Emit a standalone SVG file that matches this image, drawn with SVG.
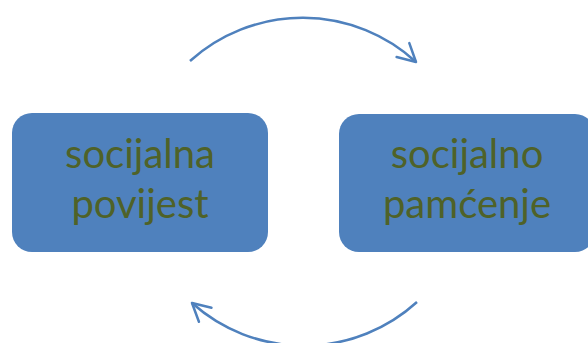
<svg xmlns="http://www.w3.org/2000/svg" width="588" height="343" viewBox="0 0 588 343">
<style>
.box{fill:#4f81bd;}
.lbl{font-family:Lato,"Open Sans","Liberation Sans",sans-serif;font-size:40px;fill:#4f6228;text-anchor:middle;}
.arc{fill:none;stroke:#4f81bd;stroke-width:2.5;}
</style>
<defs>
<marker id="chev" markerUnits="userSpaceOnUse" viewBox="-20 -12 24 24" markerWidth="24" markerHeight="24" refX="0" refY="0" orient="auto" overflow="visible">
<path d="M-17.7,-9.4 L0,0 L-17.7,9.4" fill="none" stroke="#4f81bd" stroke-width="2.5" stroke-linecap="round" stroke-linejoin="round"/>
</marker>
</defs>
<rect width="588" height="343" fill="#ffffff"/>
<g id="connectors">
<path class="arc" d="M190,61 A168,168 0 0,1 416,62" marker-end="url(#chev)"/>
<path class="arc" d="M417,302 A168,168 0 0,1 192,303" marker-end="url(#chev)"/>
</g>
<g id="node-povijest">
<rect class="box" x="12" y="113" width="256" height="139" rx="20" ry="20"/>
<text class="lbl" x="140" y="168">socijalna</text>
<text class="lbl" x="140" y="218">povijest</text>
</g>
<g id="node-pamcenje">
<rect class="box" x="339" y="114" width="256" height="138" rx="20" ry="20"/>
<text class="lbl" x="467" y="168">socijalno</text>
<text class="lbl" x="467" y="218">pamćenje</text>
</g>
</svg>
